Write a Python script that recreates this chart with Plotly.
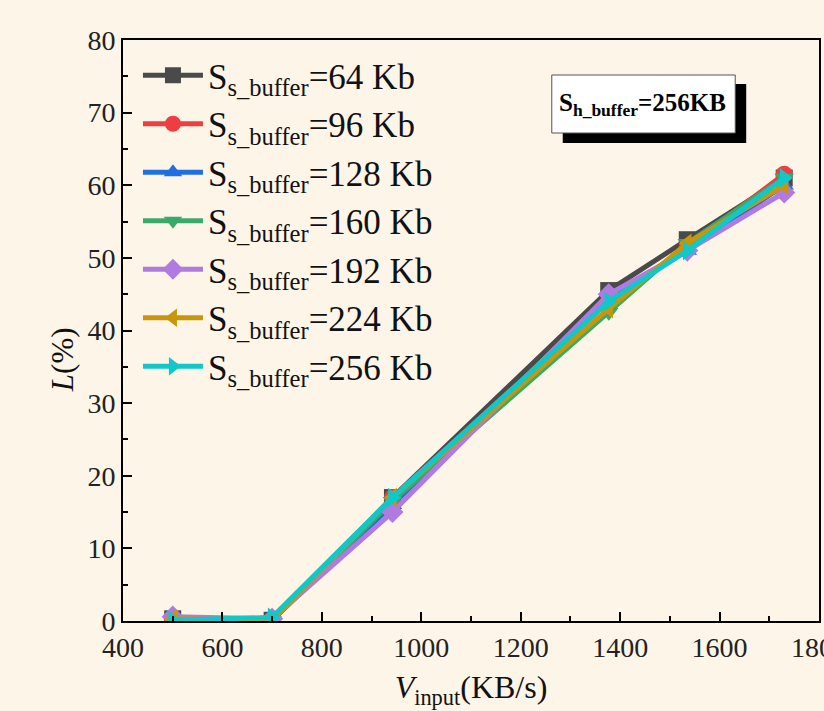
import plotly.graph_objects as go

# ---- data ----
x_input = [500, 700, 942, 1377, 1535, 1730]
series_names = ["64", "96", "128", "160", "192", "224", "256"]
series_values = {
    "64":  [0.3, 0.1, 17.0, 45.5, 52.5, 61.0],
    "96":  [0.1, 0.1, 17.0, 44.0, 51.5, 61.5],
    "128": [0.1, 0.1, 16.0, 44.5, 51.0, 60.0],
    "160": [0.1, 0.1, 16.5, 42.5, 52.0, 61.0],
    "192": [0.6, 0.3, 15.0, 45.0, 51.0, 59.0],
    "224": [0.3, 0.1, 17.0, 43.0, 52.0, 60.0],
    "256": [0.1, 0.5, 17.0, 44.0, 51.0, 61.0],
}
colors = ["#4a4a4a", "#ef3e42", "#1f6fe0", "#3aaa6a", "#b07ae0", "#c9960a", "#10c8c8"]
symbols = ["square", "circle", "triangle-up", "triangle-down", "diamond", "triangle-left", "triangle-right"]
x_tick_last = "1800"

SERIF = "Liberation Serif, Times New Roman, serif"

fig = go.Figure()
for name, c, s in zip(series_names, colors, symbols):
    fig.add_trace(go.Scatter(
        x=x_input, y=series_values[name], mode="lines+markers",
        name=f"S<sub>s_buffer</sub>=" + name + " Kb",
        line=dict(color=c, width=5),
        marker=dict(symbol=s, size=17, color=c),
    ))

W, H = 824, 711
L, R, T, B = 123, 3, 40, 90
pw, ph = W - L - R, H - T - B

def px(xp):
    return (xp - L) / pw

def py(yp):
    return (H - B - yp) / ph

# shadowed text box
fig.add_shape(type="rect", xref="paper", yref="paper",
              x0=px(564), x1=px(748), y0=py(143), y1=py(84),
              fillcolor="black", line=dict(width=0), layer="above")
fig.add_shape(type="rect", xref="paper", yref="paper",
              x0=px(553), x1=px(737), y0=py(133), y1=py(75),
              fillcolor="white", line=dict(color="#555555", width=1), layer="above")
fig.add_annotation(xref="paper", yref="paper", x=px(644), y=py(104),
                   text="<b>S<sub>h_buffer</sub>=256KB</b>", showarrow=False,
                   font=dict(family=SERIF, size=25, color="black"),
                   xanchor="center", yanchor="middle")

# y-axis title (placed like the reference, slightly below centre)
fig.add_annotation(xref="paper", yref="paper", x=px(62), y=py(360),
                   text="<i>L</i>(%)", showarrow=False, textangle=-90,
                   font=dict(family=SERIF, size=31, color="#111111"),
                   xanchor="center", yanchor="middle")
# last x tick label, cut by the page edge as in the reference
fig.add_annotation(xref="x", yref="paper", x=1800, y=py(647),
                   text=x_tick_last, showarrow=False,
                   font=dict(family=SERIF, size=28, color="#222222"),
                   xanchor="center", yanchor="middle")

axis_common = dict(
    showline=True, linecolor="black", linewidth=2, mirror=True,
    ticks="inside", ticklen=9, tickwidth=2, tickcolor="black",
    showgrid=False, zeroline=False,
    tickfont=dict(family=SERIF, size=28, color="#222222"),
)

fig.update_xaxes(range=[400, 1800], dtick=200, tick0=400,
                 minor=dict(ticks="inside", ticklen=5, tickwidth=2, dtick=100, tickcolor="black"),
                 title=dict(text="<i>V</i><sub>input</sub>(KB/s)",
                            font=dict(family=SERIF, size=32, color="#111111"), standoff=14),
                 **axis_common)
fig.update_yaxes(range=[0, 80], dtick=10,
                 minor=dict(ticks="inside", ticklen=5, tickwidth=2, dtick=5, tickcolor="black"),
                 **axis_common)

fig.update_layout(
    width=W, height=H,
    margin=dict(l=L, r=R, t=T, b=B),
    paper_bgcolor="#fdf5e8",
    plot_bgcolor="rgba(0,0,0,0)",
    legend=dict(x=px(138), y=py(46), xanchor="left", yanchor="top",
                bgcolor="rgba(0,0,0,0)",
                font=dict(family=SERIF, size=35, color="#111111"),
                itemwidth=60, tracegroupgap=0),
    showlegend=True,
)

fig.write_html("out.html")
